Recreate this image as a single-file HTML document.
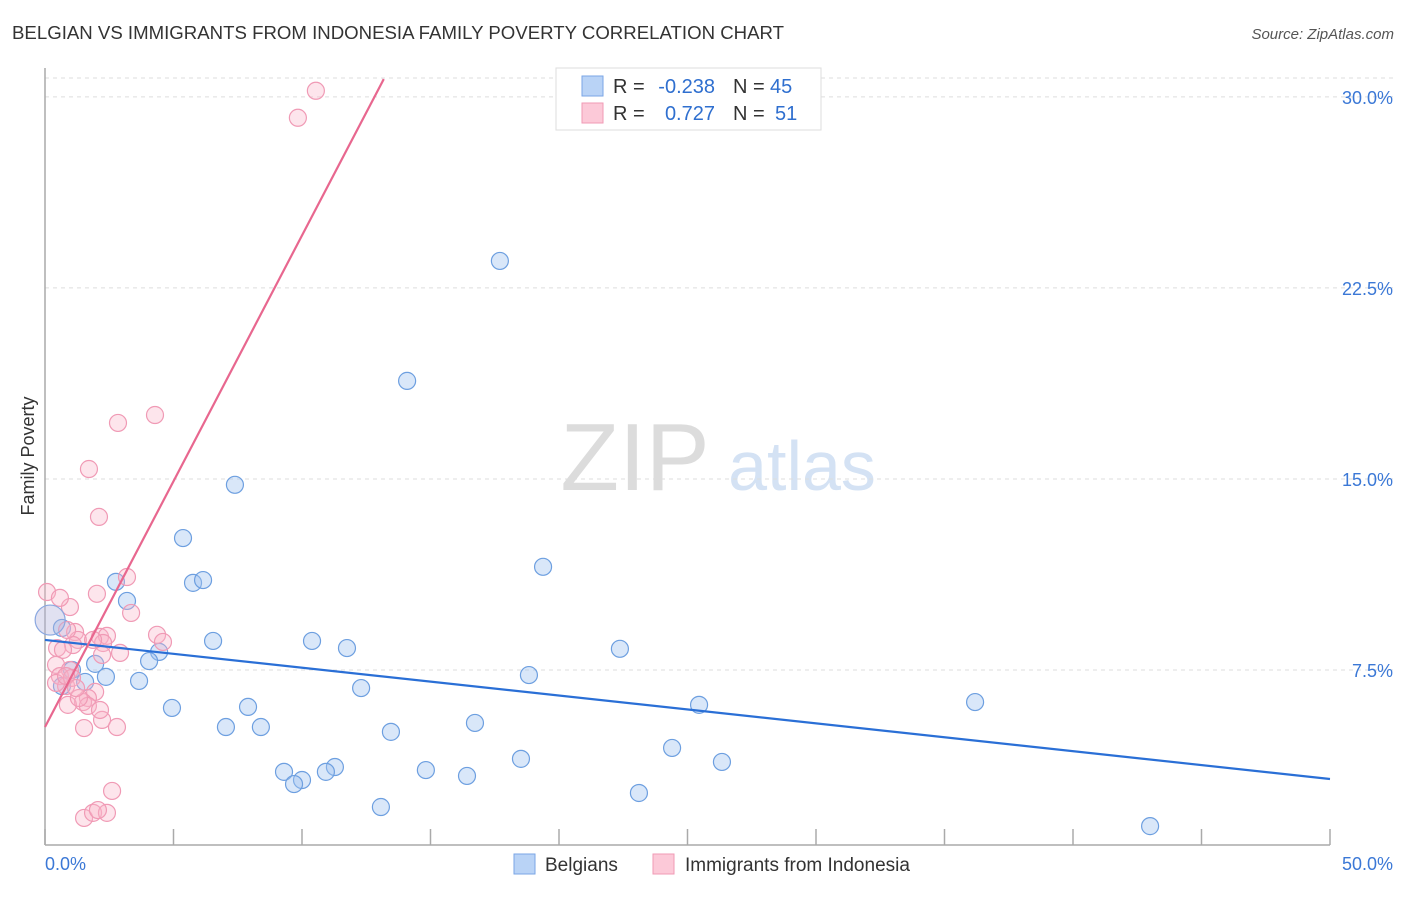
<!DOCTYPE html>
<html><head><meta charset="utf-8"><style>
body{margin:0;background:#fff;font-family:"Liberation Sans",sans-serif;}
svg text{font-family:"Liberation Sans",sans-serif;}
</style></head><body>
<svg id="chart" width="1406" height="892" xmlns="http://www.w3.org/2000/svg">
<text x="12" y="39" font-size="18" fill="#333" textLength="772" lengthAdjust="spacingAndGlyphs">BELGIAN VS IMMIGRANTS FROM INDONESIA FAMILY POVERTY CORRELATION CHART</text>
<text x="1394" y="39" font-size="15" fill="#555" text-anchor="end" font-style="italic">Source: ZipAtlas.com</text>
<text transform="translate(34,456) rotate(-90)" font-size="18" fill="#333" text-anchor="middle">Family Poverty</text>
<g><text x="635" y="490" font-size="96" fill="#dcdcdc" font-family="Liberation Serif" text-anchor="middle">ZIP</text><text x="802" y="490" font-size="70" fill="#d4e2f4" text-anchor="middle">atlas</text></g>
<g id="grid"></g><g id="axes"></g><g id="marks"></g>
<g>
<rect x="556" y="68" width="265" height="62" fill="#fff" stroke="#ddd"/>
<rect x="582" y="76" width="21" height="20" fill="#b9d3f6" stroke="#7aa6e6"/>
<rect x="582" y="103" width="21" height="20" fill="#fcc9d8" stroke="#f09ab5"/>
<text x="613" y="93" font-size="20" fill="#333">R =</text>
<text x="715" y="93" font-size="20" fill="#2f6fcf" text-anchor="end">-0.238</text>
<text x="733" y="93" font-size="20" fill="#333">N =</text>
<text x="770" y="93" font-size="20" fill="#2f6fcf">45</text>
<text x="613" y="120" font-size="20" fill="#333">R =</text>
<text x="715" y="120" font-size="20" fill="#2f6fcf" text-anchor="end">0.727</text>
<text x="733" y="120" font-size="20" fill="#333">N =</text>
<text x="775" y="120" font-size="20" fill="#2f6fcf">51</text>
</g>
<g>
<rect x="514" y="854" width="21" height="20" fill="#b9d3f6" stroke="#7aa6e6"/>
<text x="545" y="871" font-size="19" fill="#333">Belgians</text>
<rect x="653" y="854" width="21" height="20" fill="#fcc9d8" stroke="#f09ab5"/>
<text x="685" y="871" font-size="19" fill="#333">Immigrants from Indonesia</text>
</g>
</svg>
<script>
const yTicks=[7.5,15,22.5,30];
const yTickLabels=["7.5%","15.0%","22.5%","30.0%"];
const xTicks=[0,5,10,15,20,25,30,35,40,45,50];
const blueX=[17.7,14.09,7.39,19.38,5.37,5.76,6.15,2.76,3.19,6.54,10.39,11.75,22.37,4.44,4.05,1.95,1.05,2.37,1.56,3.66,0.66,18.83,12.30,25.45,36.19,4.94,7.90,16.73,7.04,8.40,13.46,24.40,18.52,26.34,9.30,11.28,10.93,14.82,16.42,10.00,9.69,13.07,23.11,43.0,0.66];
const blueY=[23.56,18.85,14.77,11.55,12.68,10.92,11.03,10.96,10.21,8.64,8.64,8.36,8.33,8.21,7.85,7.74,7.50,7.23,7.03,7.07,6.87,7.30,6.79,6.13,6.24,6.01,6.05,5.42,5.26,5.26,5.07,4.44,4.01,3.89,3.50,3.69,3.50,3.57,3.34,3.18,3.02,2.12,2.67,1.37,9.15];
const pinkX=[10.54,9.84,4.28,2.84,1.71,2.10,3.19,0.08,2.02,0.97,3.35,4.36,4.59,1.17,1.28,1.09,2.14,2.41,2.26,0.47,0.70,2.22,0.43,0.97,0.58,0.82,0.43,1.05,1.95,1.67,1.48,0.89,1.67,1.32,2.22,2.80,1.52,2.61,1.52,1.87,2.41,2.06,0.82,0.86,2.92,1.87,2.14,1.21,0.58];
const pinkY=[30.24,29.18,17.51,17.20,15.39,13.51,11.15,10.56,10.49,9.97,9.74,8.88,8.60,8.99,8.68,8.48,8.80,8.84,8.56,8.36,8.29,8.09,7.70,7.50,7.26,6.87,6.99,7.19,6.64,6.40,6.24,6.13,6.09,6.40,5.54,5.26,5.22,2.75,1.69,1.89,1.89,2.00,7.26,9.07,8.17,8.68,5.93,6.79,10.33];
const blueLine=[8.68,-0.1092];
const pinkLine=[5.26,1.93];
const X=v=>45+v*25.7, Y=v=>861-v*25.47;
const NS="http://www.w3.org/2000/svg";
function mk(p,t,a){const e=document.createElementNS(NS,t);for(const k in a)e.setAttribute(k,a[k]);document.getElementById(p).appendChild(e);return e;}
yTicks.forEach((t,i)=>{
 const g=mk('grid','line',{x1:45,x2:1393,y1:Y(t),y2:Y(t),stroke:'#ddd','stroke-dasharray':'4,4'});
 
 
 const l=mk('axes','text',{x:1393,y:Y(t)+7,'font-size':18,fill:'#3b78d6','text-anchor':'end'});l.textContent=yTickLabels[i];
 
 
});
mk('grid','line',{x1:45,x2:1393,y1:78,y2:78,stroke:'#ddd','stroke-dasharray':'4,4'});
mk('axes','line',{x1:45,x2:45,y1:68,y2:845,stroke:'#aaa','stroke-width':1.5});
mk('axes','line',{x1:45,x2:1330,y1:845,y2:845,stroke:'#aaa','stroke-width':1.5});
xTicks.forEach(t=>{const e=mk('axes','line',{x1:X(t),x2:X(t),y1:829,y2:845,stroke:'#aaa','stroke-width':1.5});
 
 });
[[0,"0.0%","start",45],[50,"50.0%","end",1393]].forEach(a=>{const l=mk('axes','text',{x:a[3],y:870,'font-size':18,fill:'#3b78d6','text-anchor':a[2]});l.textContent=a[1];
 
 });
blueX.forEach((v,i)=>{const c=mk('marks','circle',{cx:X(v),cy:Y(blueY[i]),r:8.5,fill:'rgba(160,196,240,0.4)',stroke:'#6d9fe0','stroke-width':1.2});
 
 });
pinkX.forEach((v,i)=>{const c=mk('marks','circle',{cx:X(v),cy:Y(pinkY[i]),r:8.5,fill:'rgba(250,180,200,0.35)',stroke:'#f09ab5','stroke-width':1.2});
 
 });
const big=mk('marks','circle',{cx:X(0.2),cy:Y(9.46),r:15,fill:'rgba(180,180,220,0.4)',stroke:'#8aa8e0','stroke-width':1.2});


const bl=mk('marks','line',{x1:X(0),y1:Y(blueLine[0]),x2:X(50),y2:Y(blueLine[0]+blueLine[1]*50),stroke:'#2a6fd6','stroke-width':2.2});


const xe=(30.7-pinkLine[0])/pinkLine[1];
const pl=mk('marks','line',{x1:X(0),y1:Y(pinkLine[0]),x2:X(xe),y2:Y(pinkLine[0]+pinkLine[1]*xe),stroke:'#e8678f','stroke-width':2.2});


</script>
</body></html>
